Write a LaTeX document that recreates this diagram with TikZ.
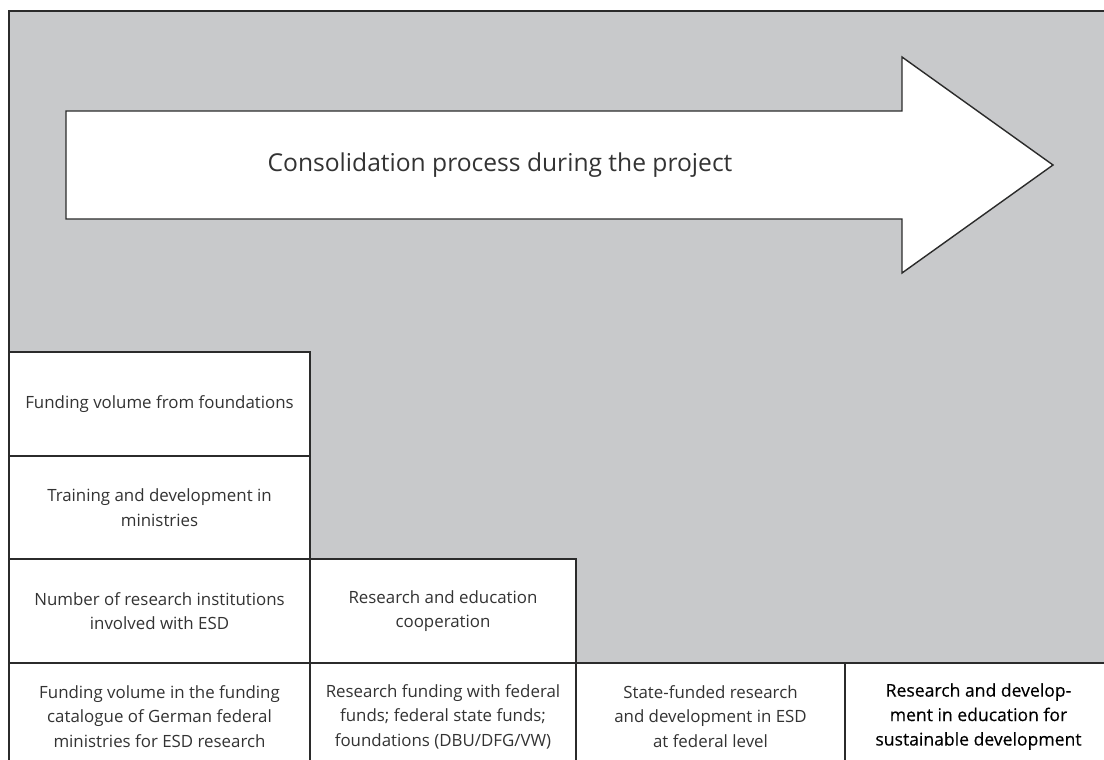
\documentclass[tikz,border=0pt]{standalone}
\usepackage{fontspec}
\setmainfont{Open Sans}
\usetikzlibrary{calc}
\definecolor{panelgrey}{HTML}{C8C9CB}
\definecolor{linegrey}{HTML}{2B2B2B}
\definecolor{txtgrey}{HTML}{333333}
\tikzset{every node/.style={font=\fontsize{12}{17.4}\selectfont},
  rule/.style={draw=linegrey,line width=1.4pt},
  cellbox/.style={rule,fill=white},
  celltxt/.style={align=center,inner sep=0pt,text=txtgrey},
  keytxt/.style={text=black,
    font=\fontsize{12.5}{17.4}\selectfont\addfontfeature{FakeBold=0.3}}}
\newcommand{\fA}{\fontsize{17.5}{21}\selectfont}
\def\Xa{9}
\def\Xb{310}
\def\Xc{576}
\def\Xd{845}
\def\Xe{1112}
\def\Ya{352}
\def\Yb{456}
\def\Yc{559}
\def\Yd{663}
\def\Ye{770}
\newcommand{\gridbox}[7][]{%
  \draw[cellbox] (#3,#4) rectangle (#5,#6);
  \node[celltxt,#1] (#2) at ($(#3,#4)!0.5!(#5,#6)$) {#7};}

\begin{document}
\begin{tikzpicture}[x=0.25mm,y=-0.25mm,
    arrowshape/.style={draw=linegrey,fill=white,line width=1pt,line join=miter}]
  \path[use as bounding box] (0,0) rectangle (1104,760);
  \clip (0,0) rectangle (1104,760);

  % Panel
  \fill[panelgrey] (\Xa,11) rectangle (\Xe,\Ye);
  \draw[rule] (\Xa,\Ye) -- (\Xa,11) -- (\Xe,11);

  % Process arrow
  \draw[arrowshape] (66,111) -- (902,111) -- (902,57) -- (1053,165)
    -- (902,273) -- (902,219) -- (66,219) -- cycle;
  \node[celltxt] (process) at (500,165) {\fA Consolidation process during the project};

  % First column
  \gridbox{foundations}{\Xa}{\Ya}{\Xb}{\Yb}{Funding volume from foundations}
  \gridbox{training}{\Xa}{\Yb}{\Xb}{\Yc}{Training and development in\\ministries}
  \gridbox{institutions}{\Xa}{\Yc}{\Xb}{\Yd}{Number of research institutions\\involved with ESD}
  \gridbox{catalogue}{\Xa}{\Yd}{\Xb}{\Ye}{Funding volume in the funding\\catalogue of German federal\\ministries for ESD research}

  % Second column
  \gridbox{cooperation}{\Xb}{\Yc}{\Xc}{\Yd}{Research and education\\cooperation}
  \gridbox{funding}{\Xb}{\Yd}{\Xc}{\Ye}{Research funding with federal\\funds; federal state funds;\\foundations (DBU/DFG/VW)}

  % Third and fourth column
  \gridbox{statefunded}{\Xc}{\Yd}{\Xd}{\Ye}{State-funded research\\and development in ESD\\at federal level}
  \gridbox[keytxt]{esd}{\Xd}{\Yd}{\Xe}{\Ye}{Research and develop-\\ment in education for\\sustainable development}
\end{tikzpicture}
\end{document}
